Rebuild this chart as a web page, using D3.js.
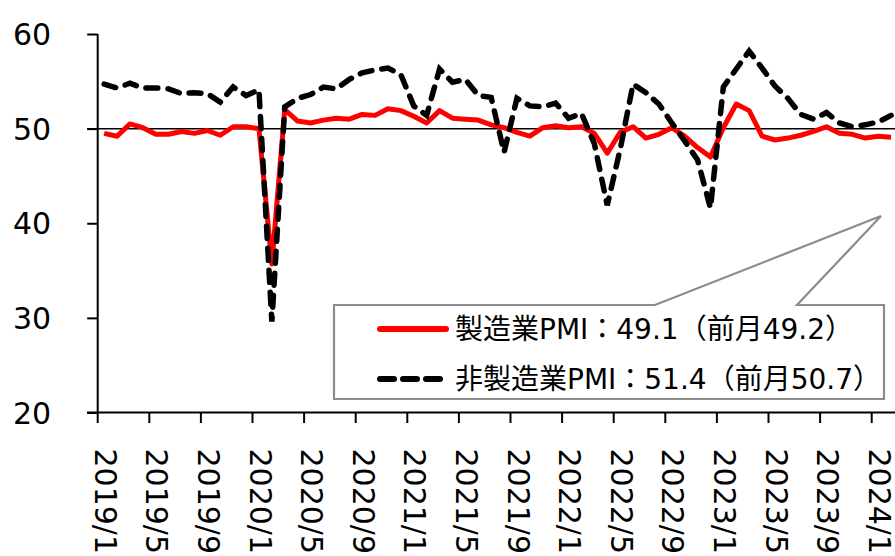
<!DOCTYPE html>
<html><head><meta charset="utf-8">
<script src="https://cdn.jsdelivr.net/npm/d3@7"></script>
<style>
html,body{margin:0;padding:0;background:#fff;overflow:hidden;}
svg{display:block;}
text{font-family:"DejaVu Sans","Noto Sans CJK JP",sans-serif;fill:#000;}
</style></head>
<body>
<svg id="c" width="895" height="556"></svg>
<script>
// ---- data ----
const startYear = 2019, startMonth = 1;
const manufacturing = [
  49.5,49.2,50.5,50.1,49.4,49.4,49.7,49.5,49.8,49.3,50.2,50.2,
  50.0,35.7,52.0,50.8,50.6,50.9,51.1,51.0,51.5,51.4,52.1,51.9,
  51.3,50.6,51.9,51.1,51.0,50.9,50.4,50.1,49.6,49.2,50.1,50.3,
  50.1,50.2,49.5,47.4,49.6,50.2,49.0,49.4,50.1,49.2,48.0,47.0,
  50.1,52.6,51.9,49.2,48.8,49.0,49.3,49.7,50.2,49.5,49.4,49.0,
  49.2,49.1
];
const nonManufacturing = [
  54.7,54.3,54.8,54.3,54.3,54.2,53.7,53.8,53.7,52.8,54.4,53.5,
  54.1,29.6,52.3,53.2,53.6,54.4,54.2,55.2,55.9,56.2,56.4,55.7,
  52.4,51.4,56.3,54.9,55.2,53.5,53.3,47.5,53.2,52.4,52.3,52.7,
  51.1,51.6,48.4,41.9,47.8,54.7,53.8,52.6,50.6,48.7,46.7,41.6,
  54.4,56.3,58.2,56.4,54.5,53.2,51.5,51.0,51.7,50.6,50.2,50.4,
  50.7,51.4
];
const monthLabels = manufacturing.map((d,i)=>{
  const m = (startMonth-1+i);
  return (startYear + Math.floor(m/12)) + "/" + (m%12+1);
});
const yTicks = [20,30,40,50,60];
const referenceLevel = 50;
const legendLabels = ["製造業PMI：49.1（前月49.2）","非製造業PMI：51.4（前月50.7）"];

// ---- layout ----
const svg = d3.select("#c");
const x0 = 97.7, step = 12.9;
const x = d3.scaleBand().domain(monthLabels).range([x0, x0 + step*monthLabels.length]).padding(0);
const xc = d => x(d) + x.bandwidth()/2;
const y = d3.scaleLinear().domain([20,60]).range([412.5,34]);
const axisLeftX = 97.7, plotRight = 895;

// reference line at 50
svg.append("line")
  .attr("x1",87).attr("x2",plotRight)
  .attr("y1",y(referenceLevel)).attr("y2",y(referenceLevel))
  .attr("stroke","#000").attr("stroke-width",1.5);

// y axis
const yAxis = svg.append("g").attr("transform",`translate(${axisLeftX},0)`)
  .call(d3.axisLeft(y).tickValues(yTicks).tickSize(10.5).tickPadding(36).tickFormat(d3.format("d")));
yAxis.select(".domain").attr("stroke","#000").attr("stroke-width",2).attr("d",`M0,${y(60)}V${y(20)}`);
yAxis.selectAll(".tick line").attr("stroke","#000").attr("stroke-width",2);
yAxis.selectAll(".tick text").attr("font-size",30).attr("font-family","DejaVu Sans").attr("dy","0.35em");

// x axis (ticks at category boundaries, every 4 months)
const xTickVals = monthLabels.filter((d,i)=>i%4===0);
const xAxis = svg.append("g").attr("transform",`translate(0,${y(20)})`);
xAxis.append("path").attr("d",`M87,0H${plotRight}`).attr("stroke","#000").attr("stroke-width",2).attr("fill","none");
const xt = xAxis.selectAll("g.tick").data(xTickVals).join("g").attr("class","tick")
  .attr("transform",d=>`translate(${x(d)},0)`);
xt.append("line").attr("y2",10.5).attr("stroke","#000").attr("stroke-width",2);
xt.append("text")
  .attr("transform","translate(-3,36) rotate(90)")
  .attr("text-anchor","start")
  .attr("font-size",30).attr("font-family","DejaVu Sans")
  .text(d=>d);

// series
const line = d3.line().x((d,i)=>xc(monthLabels[i])).y(d=>y(d));
svg.append("path").datum(manufacturing)
  .attr("d",line).attr("fill","none").attr("stroke","#ff0000")
  .attr("stroke-width",5).attr("stroke-linejoin","round");
svg.append("path").datum(nonManufacturing)
  .attr("d",line).attr("fill","none").attr("stroke","#000")
  .attr("stroke-width",5.5).attr("stroke-dasharray","12,10").attr("stroke-linecap","round");

// legend callout box
const bx0=334, bx1=884, by0=305, by1=399;
svg.append("path")
  .attr("d",`M${bx0},${by0}H655L881,216L797,${by0}H${bx1}V${by1}H${bx0}Z`)
  .attr("fill","#fff").attr("stroke","#8c8c8c").attr("stroke-width",2.2);

const legendY = [329, 379];
svg.append("line").attr("x1",380).attr("x2",446).attr("y1",legendY[0]).attr("y2",legendY[0])
  .attr("stroke","#ff0000").attr("stroke-width",6).attr("stroke-linecap","round");
svg.append("line").attr("x1",380).attr("x2",440).attr("y1",legendY[1]).attr("y2",legendY[1])
  .attr("stroke","#000").attr("stroke-width",6).attr("stroke-dasharray","14,9").attr("stroke-linecap","round");
legendLabels.forEach((t,i)=>{
  svg.append("text").attr("x",455).attr("y",legendY[i]).attr("dy","0.36em")
    .attr("font-size",28).text(t);
});
</script>
</body></html>
